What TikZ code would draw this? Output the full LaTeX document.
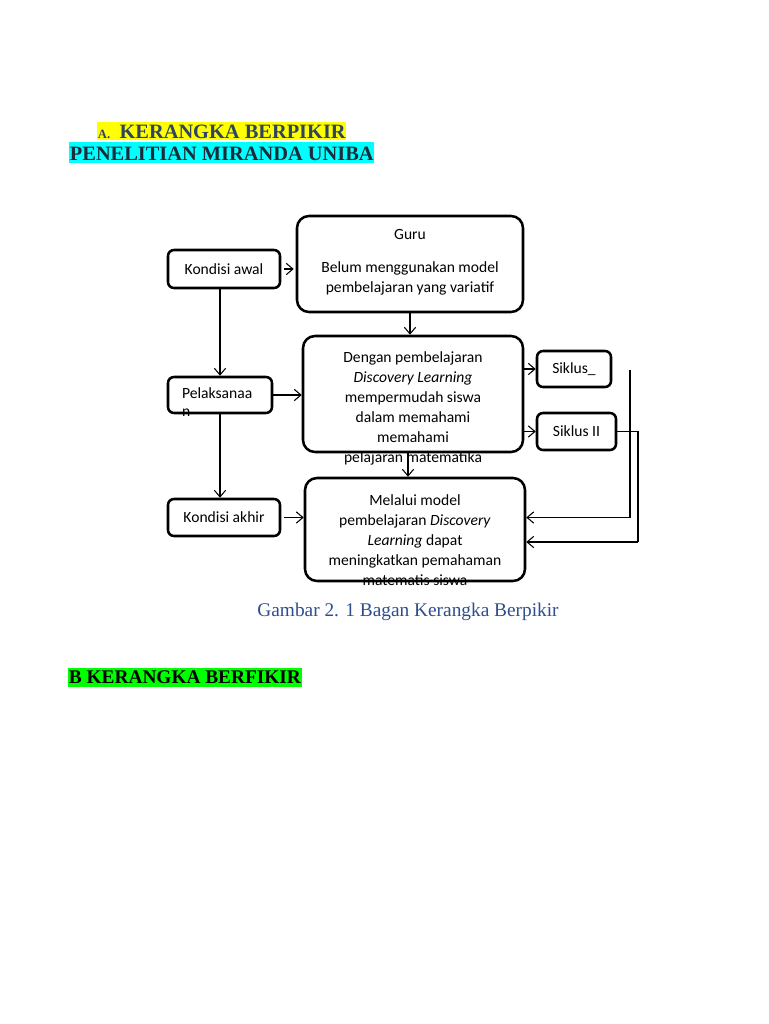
\documentclass[tikz,border=0pt]{standalone}
\usepackage{fontspec}
\setmainfont{Liberation Serif}
\newfontfamily\boxfont{Carlito}
\usepackage{tikz}
\usetikzlibrary{arrows.meta}
\definecolor{headblue}{HTML}{2E4461}
\definecolor{headdark}{HTML}{1C2B3A}
\definecolor{capblue}{HTML}{2F4E8C}
\definecolor{hlyellow}{HTML}{FFFF00}
\definecolor{hlcyan}{HTML}{00FFFF}
\definecolor{hlgreen}{HTML}{00FF00}

\begin{document}
\begin{tikzpicture}[x=0.75pt,y=-0.75pt,
  box/.style={draw,line width=1.9pt,rounded corners=4.5pt,inner sep=0pt,
    font=\boxfont\fontsize{11.7}{15}\selectfont},
  bigbox/.style={box,rounded corners=9pt},
  boxtext/.style={inner sep=0pt,align=center,font=\boxfont\fontsize{11.7}{15}\selectfont},
  conn/.style={line width=0.8pt,-{Straight Barb[length=5pt,width=8.5pt]}},
  line/.style={line width=0.8pt},
  head/.style={anchor=base west,inner xsep=0.5pt,inner ysep=0pt,
    font=\bfseries\fontsize{15.3}{18}\selectfont}]
  \fill[white] (0,0) rectangle (768,1024);
  \useasboundingbox (0,0) rectangle (768,1024);
  % headings
  \node[head,fill=hlyellow,text=headblue,text height=12pt,text depth=1.5pt] (hdA) at (97,138)
    {{\fontsize{9.5}{11}\selectfont A.}\hspace{7pt}KERANGKA BERPIKIR};
  \node[head,fill=hlcyan,text=headdark,text height=13.5pt,text depth=2.25pt] (hdM) at (69,160)
    {PENELITIAN MIRANDA UNIBA};
  % boxes
  \node[box,minimum width=84pt,minimum height=28.5pt] (awal) at (224,269) {Kondisi awal};
  \node[bigbox,minimum width=169.5pt,minimum height=72pt] (guru) at (410,264) {};
  \node[boxtext,anchor=north] (gurutext) at ([yshift=-10.5pt]guru.north)
    {Guru\\[9.75pt]Belum menggunakan model\\pembelajaran yang variatif};
  \node[box,minimum width=78pt,minimum height=27pt] (pelak) at (220,395) {};
  \node[boxtext,anchor=north west,align=left] (pelaktext) at ([xshift=11.25pt,yshift=-8.5pt]pelak.north west)
    {Pelaksanaa\\[-1.5pt]n};
  \node[bigbox,minimum width=165pt,minimum height=87pt] (dengan) at (413,394) {};
  \node[boxtext,anchor=north] (dengantext) at ([yshift=-12.5pt]dengan.north)
    {Dengan pembelajaran\\\textit{Discovery Learning}\\mempermudah siswa\\dalam memahami\\memahami\\pelajaran matematika};
  \node[box,minimum width=84pt,minimum height=27.75pt] (akhir) at (224,517.5) {Kondisi akhir};
  \node[bigbox,minimum width=165pt,minimum height=77.25pt] (melalui) at (415,529.5) {};
  \node[boxtext,anchor=north] (melaluitext) at ([yshift=-13.5pt]melalui.north)
    {Melalui model\\pembelajaran \textit{Discovery}\\\textit{Learning} dapat\\meningkatkan pemahaman\\matematis siswa};
  \node[box,minimum width=55.5pt,minimum height=27pt] (siklusa) at (574,369) {Siklus\_};
  \node[box,minimum width=59.25pt,minimum height=27.75pt] (siklusb) at (576.5,431.5) {Siklus II};
  \coordinate (loopa) at (630,370);
  \coordinate (loopb) at (638,542);
  % connectors
  \draw[conn,shorten <=2pt,shorten >=1.5pt] (awal.east) -- (guru.west |- awal.east);
  \draw[conn] (guru.south) -- (guru.south |- dengan.north);
  \draw[conn] (pelak.north |- awal.south) -- (pelak.north);
  \draw[conn] (pelak.east) -- (dengan.west |- pelak.east);
  \draw[conn] (pelak.south) -- (pelak.south |- akhir.north);
  \draw[conn,shorten <=2pt] (akhir.east) -- (melalui.west |- akhir.east);
  \draw[conn] ([xshift=-3.75pt]dengan.south) -- ([xshift=-3.75pt]dengan.south |- melalui.north);
  \draw[conn] (dengan.east |- siklusa.west) -- (siklusa.west);
  \draw[conn] (dengan.east |- siklusb.west) -- (siklusb.west);
  \draw[conn] (loopa) |- (melalui.east |- akhir.east);
  \draw[line] (siklusb.east) -| (loopb);
  \draw[conn] (loopb) -- (melalui.east |- loopb);
  % caption and next heading
  \node[anchor=base,text=capblue,font=\fontsize{14.5}{17}\selectfont] (caption) at (408,616)
    {Gambar 2. 1 Bagan Kerangka Berpikir};
  \node[head,fill=hlgreen,text=black,text height=11.25pt,text depth=3pt,
    font=\bfseries\fontsize{14.5}{17}\selectfont] (hdB) at (68,683)
    {B KERANGKA BERFIKIR};
\end{tikzpicture}
\end{document}
